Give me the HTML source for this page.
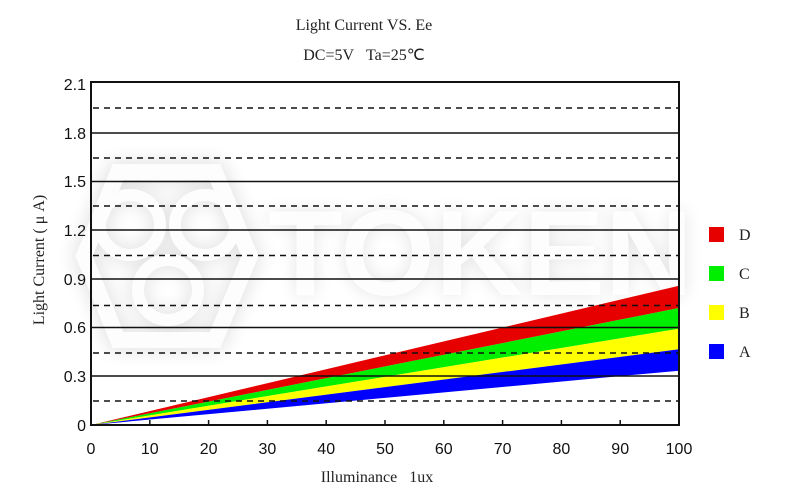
<!DOCTYPE html>
<html><head><meta charset="utf-8"><style>
html,body{margin:0;padding:0;background:#fff;}
svg{display:block;}
.sf{font-family:"Liberation Serif",serif;fill:#222;}
.ss{font-family:"Liberation Sans",sans-serif;fill:#111;}
</style></head><body>
<svg width="800" height="501" viewBox="0 0 800 501" xmlns="http://www.w3.org/2000/svg">
<defs>
<filter id="bl" x="-20%" y="-20%" width="140%" height="140%"><feGaussianBlur stdDeviation="9"/></filter>
</defs>
<rect width="800" height="501" fill="#fff"/>
<!-- watermark -->
<g opacity="0.11" filter="url(#bl)">
<text x="268" y="295" font-family="Liberation Sans" font-weight="bold" font-size="122" fill="#000">TOKEN</text>
<polygon points="118,172 215,172 250,256 215,340 118,340 84,256" fill="none" stroke="#000" stroke-width="22"/>
<circle cx="130" cy="225" r="30" fill="none" stroke="#000" stroke-width="16"/>
<circle cx="205" cy="225" r="30" fill="none" stroke="#000" stroke-width="16"/>
<circle cx="168" cy="290" r="30" fill="none" stroke="#000" stroke-width="16"/>
</g>
<g opacity="0.92" fill="none" stroke="#fff">
<polygon points="118,172 215,172 250,256 215,340 118,340 84,256" stroke-width="16"/>
<circle cx="130" cy="225" r="30" stroke-width="12"/>
<circle cx="205" cy="225" r="30" stroke-width="12"/>
<circle cx="168" cy="290" r="30" stroke-width="12"/>
</g>
<g opacity="0.92">
<text x="268" y="295" font-family="Liberation Sans" font-weight="bold" font-size="122" fill="#fff">TOKEN</text>
</g>
<!-- title -->
<text class="sf" x="364" y="30" text-anchor="middle" font-size="16">Light Current VS. Ee</text>
<text class="sf" x="364" y="60" text-anchor="middle" font-size="16">DC=5V&#160;&#160;&#160;Ta=25&#8451;</text>
<!-- bands -->
<polygon points="91,425 679,285.7 679,308" fill="#e60000"/>
<polygon points="91,425 679,308 679,328.7" fill="#00ee00"/>
<polygon points="91,425 679,328.7 679,349.3" fill="#ffff00"/>
<polygon points="91,425 679,349.3 679,370.7" fill="#0000ff"/>
<!-- grid -->
<g stroke="#111" stroke-width="1.5">
<line x1="91" x2="679" y1="133" y2="133"/>
<line x1="91" x2="679" y1="181.5" y2="181.5"/>
<line x1="91" x2="679" y1="230" y2="230"/>
<line x1="91" x2="679" y1="279" y2="279"/>
<line x1="91" x2="679" y1="327.5" y2="327.5"/>
<line x1="91" x2="679" y1="376" y2="376"/>
</g>
<g stroke="#111" stroke-width="1.5" stroke-dasharray="6,5">
<line x1="93" x2="679" y1="108" y2="108"/>
<line x1="93" x2="679" y1="158" y2="158"/>
<line x1="93" x2="679" y1="206" y2="206"/>
<line x1="93" x2="679" y1="255.5" y2="255.5"/>
<line x1="93" x2="679" y1="305.5" y2="305.5"/>
<line x1="93" x2="679" y1="353" y2="353"/>
<line x1="93" x2="679" y1="401" y2="401"/>
</g>
<!-- frame -->
<rect x="91" y="82" width="588" height="343" fill="none" stroke="#111" stroke-width="2"/>
<!-- x ticks -->
<g stroke="#111" stroke-width="1.5">
<line x1="149.8" x2="149.8" y1="425" y2="420"/>
<line x1="208.6" x2="208.6" y1="425" y2="420"/>
<line x1="267.4" x2="267.4" y1="425" y2="420"/>
<line x1="326.2" x2="326.2" y1="425" y2="420"/>
<line x1="385" x2="385" y1="425" y2="420"/>
<line x1="443.8" x2="443.8" y1="425" y2="420"/>
<line x1="502.6" x2="502.6" y1="425" y2="420"/>
<line x1="561.4" x2="561.4" y1="425" y2="420"/>
<line x1="620.2" x2="620.2" y1="425" y2="420"/>
</g>
<!-- y labels -->
<g class="ss" font-size="16" text-anchor="end">
<text x="86" y="90">2.1</text>
<text x="86" y="139">1.8</text>
<text x="86" y="187">1.5</text>
<text x="86" y="236">1.2</text>
<text x="86" y="285">0.9</text>
<text x="86" y="333">0.6</text>
<text x="86" y="382">0.3</text>
<text x="86" y="431">0</text>
</g>
<!-- x labels -->
<g class="ss" font-size="16" text-anchor="middle">
<text x="91" y="454">0</text>
<text x="149.8" y="454">10</text>
<text x="208.6" y="454">20</text>
<text x="267.4" y="454">30</text>
<text x="326.2" y="454">40</text>
<text x="385" y="454">50</text>
<text x="443.8" y="454">60</text>
<text x="502.6" y="454">70</text>
<text x="561.4" y="454">80</text>
<text x="620.2" y="454">90</text>
<text x="679" y="454">100</text>
</g>
<!-- axis labels -->
<text class="sf" x="377" y="482" text-anchor="middle" font-size="16">Illuminance&#160;&#160;&#160;1ux</text>
<text class="sf" transform="translate(44,260) rotate(-90)" text-anchor="middle" font-size="16">Light Current ( &#956; A)</text>
<!-- legend -->
<rect x="709" y="227" width="15" height="15" fill="#e60000"/>
<rect x="709" y="266" width="15" height="15" fill="#00ee00"/>
<rect x="709" y="305" width="15" height="15" fill="#ffff00"/>
<rect x="709" y="344" width="15" height="15" fill="#0000ff"/>
<g class="sf" font-size="16">
<text x="739" y="240">D</text>
<text x="739" y="279">C</text>
<text x="739" y="318">B</text>
<text x="739" y="357">A</text>
</g>
</svg>
</body></html>
